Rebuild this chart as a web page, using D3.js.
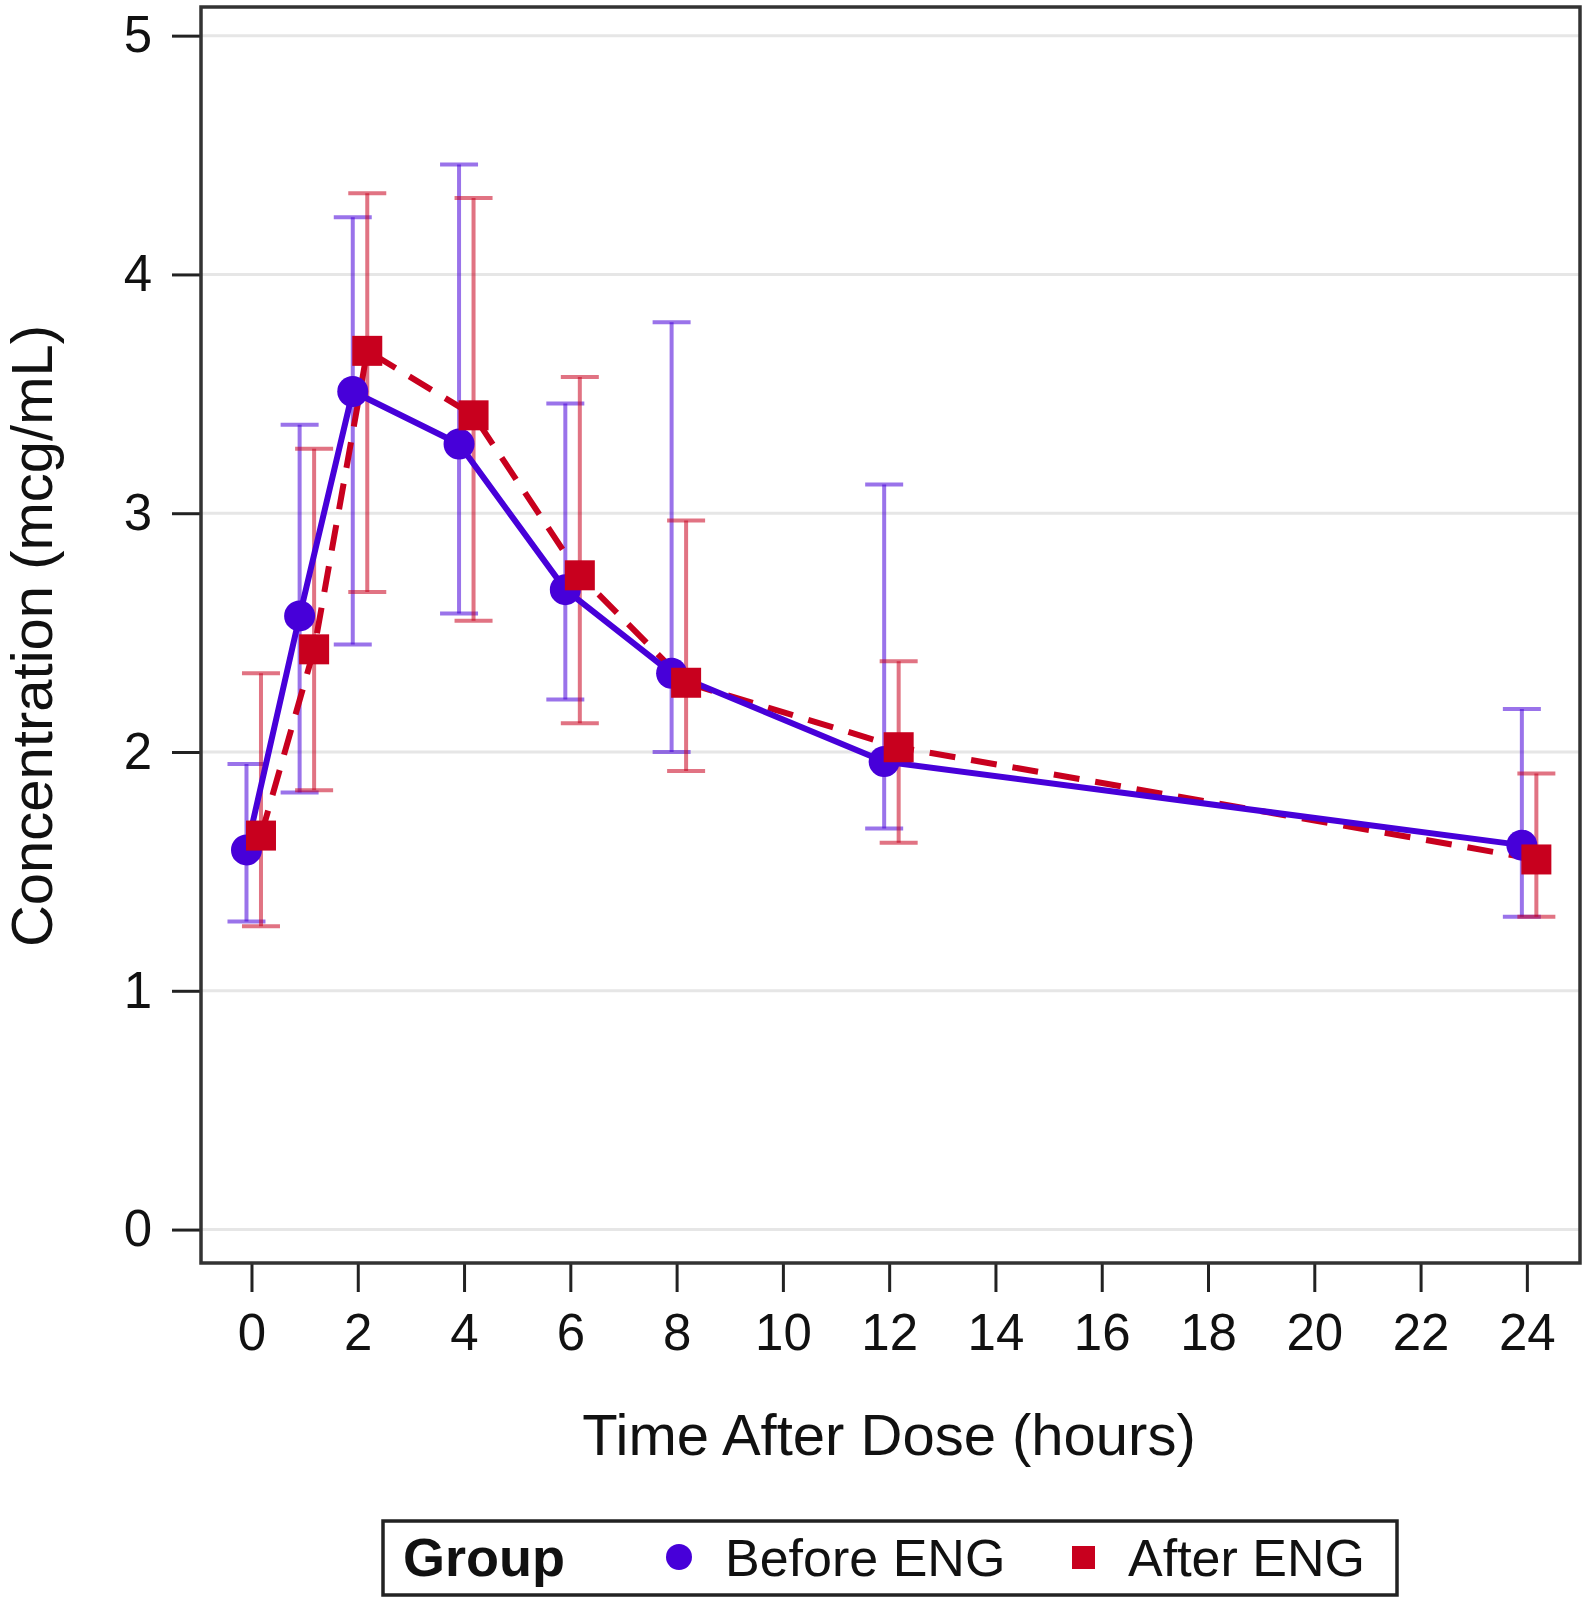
<!DOCTYPE html>
<html lang="en">
<meta charset="UTF-8">
<title>Concentration vs time</title>
<script src="https://d3js.org/d3.v7.min.js"></script>
<style>
  body { margin: 0; background: #fff; }
  svg text { font-family: "Liberation Sans", Arial, sans-serif; fill: #111; }
</style>
<body>
<svg id="chart" width="1585" height="1601"></svg>
<script>
// time points (hours)
var times = [0, 1, 2, 4, 6, 8, 12, 24];

// Before ENG: mean and error bar ends
var beforeMean  = [1.59, 2.57, 3.51, 3.29, 2.68, 2.33, 1.96, 1.61];
var beforeLower = [1.29, 1.83, 2.45, 2.58, 2.22, 2.00, 1.68, 1.31];
var beforeUpper = [1.95, 3.37, 4.24, 4.46, 3.46, 3.80, 3.12, 2.18];

// After ENG
var afterMean  = [1.65, 2.43, 3.68, 3.41, 2.74, 2.29, 2.02, 1.55];
var afterLower = [1.27, 1.84, 2.67, 2.55, 2.12, 1.92, 1.62, 1.31];
var afterUpper = [2.33, 3.27, 4.34, 4.32, 3.57, 2.97, 2.38, 1.91];

var xTicks = [0, 2, 4, 6, 8, 10, 12, 14, 16, 18, 20, 22, 24];
var yTicks = [0, 1, 2, 3, 4, 5];

var blue = "#4700d9", red = "#c8001e";

var frame = {left: 201, right: 1580, top: 7, bottom: 1263};

var x = d3.scaleLinear().domain([-0.95, 25]).range([frame.left, frame.right]);
var y = d3.scaleLinear().domain([-0.14, 5.12]).range([frame.bottom, frame.top]);

var svg = d3.select("#chart");

// grid lines
svg.append("g").selectAll("line")
  .data(yTicks).enter().append("line")
    .attr("x1", frame.left).attr("x2", frame.right)
    .attr("y1", d => y(d)).attr("y2", d => y(d))
    .attr("stroke", "#e6e6e6").attr("stroke-width", 3);

// axes
var yAxis = svg.append("g")
  .attr("transform", `translate(${frame.left},0)`)
  .call(d3.axisLeft(y).tickValues(yTicks).tickSize(29).tickPadding(20).tickFormat(d3.format("d")));
var xAxis = svg.append("g")
  .attr("transform", `translate(0,${frame.bottom})`)
  .call(d3.axisBottom(x).tickValues(xTicks).tickSize(29).tickPadding(22).tickFormat(d3.format("d")));
[xAxis, yAxis].forEach(a => {
  a.select(".domain").remove();
  a.selectAll(".tick line").attr("stroke", "#222").attr("stroke-width", 3);
  a.selectAll(".tick text").style("font-size", "51px").attr("fill", "#111");
});

// frame
svg.append("rect")
  .attr("x", frame.left).attr("y", frame.top)
  .attr("width", frame.right - frame.left).attr("height", frame.bottom - frame.top)
  .attr("fill", "none").attr("stroke", "#333").attr("stroke-width", 3.5);

var series = [
  {name: "Before ENG", color: blue, dx: -5, mean: beforeMean, lo: beforeLower, hi: beforeUpper, dash: null},
  {name: "After ENG", color: red, dx: 9.5, mean: afterMean, lo: afterLower, hi: afterUpper, dash: "26,16"}
];
series.forEach(s => {
  s.points = times.map((t, i) => ({t: t, m: s.mean[i], lo: s.lo[i], hi: s.hi[i]}));
});

// error bars
series.forEach(s => {
  var g = svg.append("g").attr("stroke", s.color).attr("stroke-opacity", 0.55).attr("stroke-width", 4);
  s.points.forEach(p => {
    var cx = x(p.t) + s.dx;
    g.append("line").attr("x1", cx).attr("x2", cx).attr("y1", y(p.lo)).attr("y2", y(p.hi));
    g.append("line").attr("x1", cx - 19).attr("x2", cx + 19).attr("y1", y(p.lo)).attr("y2", y(p.lo));
    g.append("line").attr("x1", cx - 19).attr("x2", cx + 19).attr("y1", y(p.hi)).attr("y2", y(p.hi));
  });
});

// lines (red dashed under blue solid)
[series[1], series[0]].forEach(s => {
  var line = d3.line().x(p => x(p.t) + s.dx).y(p => y(p.m));
  svg.append("path").datum(s.points)
    .attr("d", line)
    .attr("fill", "none")
    .attr("stroke", s.color)
    .attr("stroke-width", 6)
    .attr("stroke-dasharray", s.dash);
});

// markers
svg.append("g").selectAll("circle")
  .data(series[0].points).enter().append("circle")
    .attr("cx", p => x(p.t) + series[0].dx)
    .attr("cy", p => y(p.m))
    .attr("r", 15.5)
    .attr("fill", blue);
svg.append("g").selectAll("rect")
  .data(series[1].points).enter().append("rect")
    .attr("x", p => x(p.t) + series[1].dx - 15)
    .attr("y", p => y(p.m) - 15)
    .attr("width", 30).attr("height", 30)
    .attr("fill", red);

// axis titles
svg.append("text")
  .attr("x", 889).attr("y", 1455)
  .attr("text-anchor", "middle")
  .style("font-size", "58px")
  .text("Time After Dose (hours)");
svg.append("text")
  .attr("transform", "translate(52,636) rotate(-90)")
  .attr("text-anchor", "middle")
  .style("font-size", "58px")
  .text("Concentration (mcg/mL)");

// legend
var leg = svg.append("g");
leg.append("rect")
  .attr("x", 383).attr("y", 1521).attr("width", 1014).attr("height", 74)
  .attr("fill", "#fff").attr("stroke", "#222").attr("stroke-width", 3.5);
leg.append("text").attr("x", 403).attr("y", 1576)
  .style("font-size", "54px").style("font-weight", "bold").text("Group");
leg.append("circle").attr("cx", 679).attr("cy", 1557).attr("r", 13).attr("fill", blue);
leg.append("text").attr("x", 725).attr("y", 1576).style("font-size", "52px").text("Before ENG");
leg.append("rect").attr("x", 1072).attr("y", 1546).attr("width", 23).attr("height", 23).attr("fill", red);
leg.append("text").attr("x", 1128).attr("y", 1576).style("font-size", "52px").text("After ENG");
</script>
</body>
</html>
